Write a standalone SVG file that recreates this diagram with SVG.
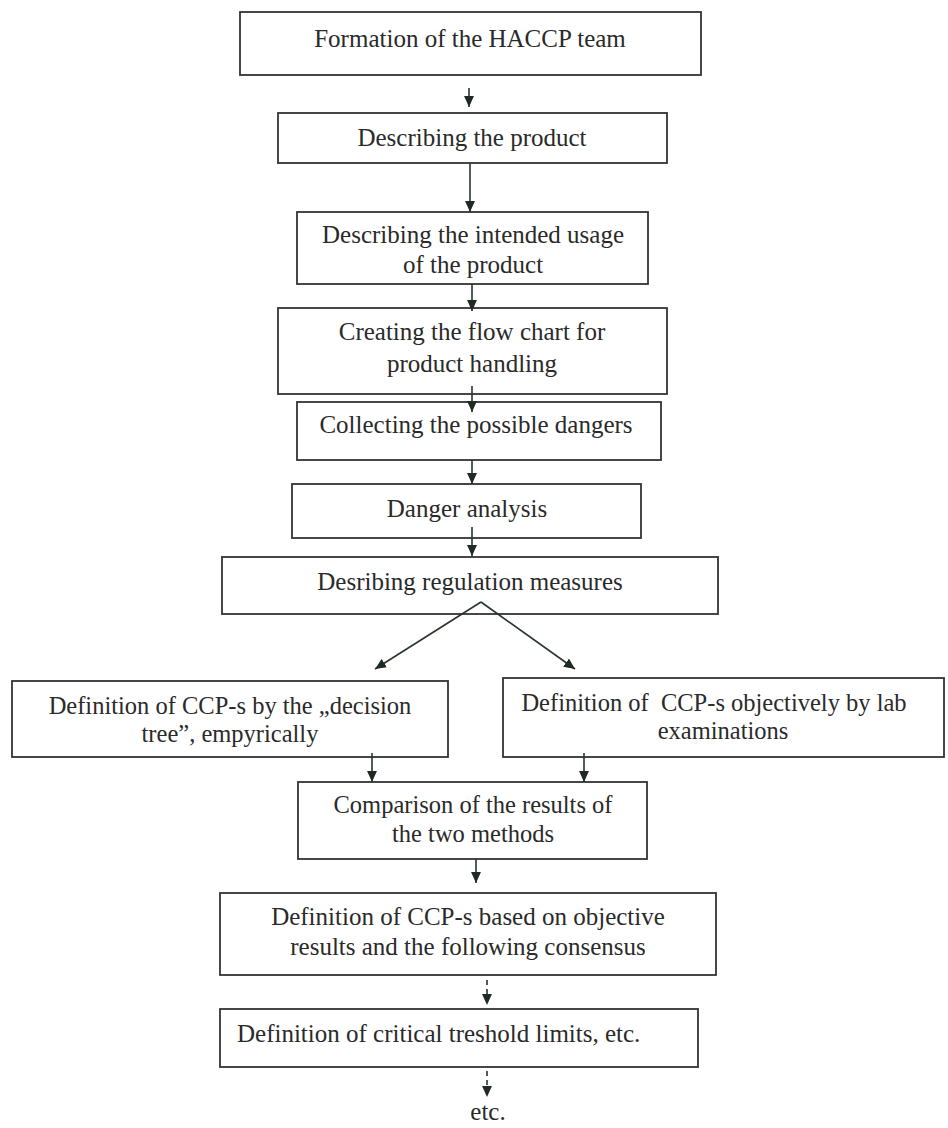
<svg xmlns="http://www.w3.org/2000/svg" width="948" height="1128" viewBox="0 0 948 1128">
<style>
  .box { fill: #ffffff; stroke: #333333; stroke-width: 1.8; }
  .t { font-family: "Liberation Serif", "Times New Roman", serif; font-size: 25px; fill: #2a2a2a; text-anchor: middle; }
  .ts { font-size: 24.5px; }
  .c { stroke: #27352b; stroke-width: 1.6; fill: none; }
  .d { stroke-dasharray: 5 4; }
</style>
<defs>
  <marker id="ah" viewBox="0 0 10 10" refX="10" refY="5" markerWidth="11" markerHeight="11" markerUnits="userSpaceOnUse" orient="auto">
    <path d="M0,0.5 L10,5 L0,9.5 Z" fill="#1f2a22"/>
  </marker>
</defs>
<rect width="948" height="1128" fill="#ffffff"/>

<g id="n1"><rect class="box" x="240" y="12" width="461" height="63"/>
  <text class="t" x="470" y="47">Formation of the HACCP team</text></g>
<g id="n2"><rect class="box" x="278" y="113" width="389" height="50"/>
  <text class="t" x="472" y="146">Describing the product</text></g>
<g id="n3"><rect class="box" x="297" y="212" width="351" height="72"/>
  <text class="t" x="473" y="243">Describing the intended usage</text>
  <text class="t" x="473" y="273">of the product</text></g>
<g id="n4"><rect class="box" x="278" y="308" width="389" height="86"/>
  <text class="t" x="472" y="340">Creating the flow chart for</text>
  <text class="t" x="472" y="372">product handling</text></g>
<g id="n5"><rect class="box" x="297" y="402" width="364" height="58"/>
  <text class="t" x="476" y="433">Collecting the possible dangers</text></g>
<g id="n6"><rect class="box" x="292" y="484" width="349" height="54"/>
  <text class="t" x="467" y="517">Danger analysis</text></g>
<g id="n7"><rect class="box" x="222" y="557" width="496" height="57"/>
  <text class="t" x="470" y="590">Desribing regulation measures</text></g>
<g id="n8"><rect class="box" x="12" y="681" width="436" height="76"/>
  <text class="t ts" x="230" y="714">Definition of CCP-s by the „decision</text>
  <text class="t ts" x="230" y="742">tree”, empyrically</text></g>
<g id="n9"><rect class="box" x="503" y="678" width="441" height="79"/>
  <text class="t ts" x="714" y="711" xml:space="preserve">Definition of  CCP-s objectively by lab</text>
  <text class="t ts" x="723" y="739">examinations</text></g>
<g id="n10"><rect class="box" x="298" y="782" width="349" height="77"/>
  <text class="t ts" x="473" y="813">Comparison of the results of</text>
  <text class="t ts" x="473" y="842">the two methods</text></g>
<g id="n11"><rect class="box" x="220" y="893" width="496" height="82"/>
  <text class="t" x="468" y="925">Definition of CCP-s based on objective</text>
  <text class="t" x="468" y="955">results and the following consensus</text></g>
<g id="n12"><rect class="box" x="220" y="1009" width="478" height="58"/>
  <text class="t" x="237" y="1042" style="text-anchor:start">Definition of critical treshold limits, etc.</text></g>
<g id="n13"><text class="t" x="488" y="1120">etc.</text></g>

<g id="connectors">
  <line class="c" x1="469" y1="88" x2="469" y2="107" marker-end="url(#ah)"/>
  <line class="c" x1="470" y1="163" x2="470" y2="212" marker-end="url(#ah)"/>
  <line class="c" x1="472" y1="284" x2="472" y2="311" marker-end="url(#ah)"/>
  <line class="c" x1="472" y1="386" x2="472" y2="412" marker-end="url(#ah)"/>
  <line class="c" x1="472" y1="460" x2="472" y2="484" marker-end="url(#ah)"/>
  <line class="c" x1="472" y1="527" x2="472" y2="556" marker-end="url(#ah)"/>
  <line class="c" x1="481" y1="602" x2="375" y2="669" marker-end="url(#ah)"/>
  <line class="c" x1="481" y1="602" x2="575" y2="669" marker-end="url(#ah)"/>
  <line class="c" x1="372" y1="753" x2="372" y2="782" marker-end="url(#ah)"/>
  <line class="c" x1="584" y1="753" x2="584" y2="782" marker-end="url(#ah)"/>
  <line class="c" x1="476" y1="859" x2="476" y2="883" marker-end="url(#ah)"/>
  <line class="c d" x1="487" y1="980" x2="487" y2="1005" marker-end="url(#ah)"/>
  <line class="c d" x1="487" y1="1071" x2="487" y2="1097" marker-end="url(#ah)"/>
</g>
</svg>
